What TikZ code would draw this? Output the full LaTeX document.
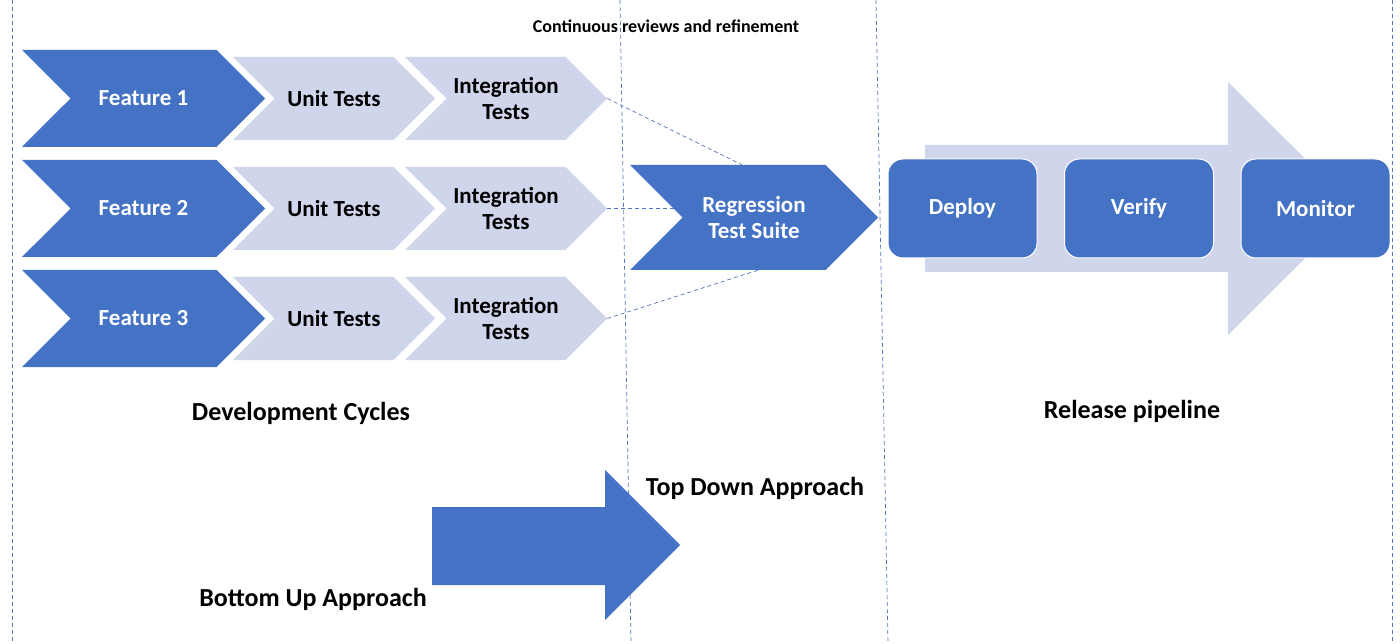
\documentclass[tikz,border=0pt]{standalone}
\usepackage{fontspec}
\setmainfont{Carlito}
\usepackage{tikz}
\usetikzlibrary{shapes.symbols,positioning,backgrounds}
\definecolor{darkblue}{RGB}{68,114,196}
\definecolor{paleblue}{RGB}{207,213,234}
\definecolor{guideblue}{RGB}{84,116,190}
\tikzset{
    chevron/.style={signal, signal from=west, signal to=east, inner sep=0,
        align=center, font=\fontsize{23}{26}\selectfont\bfseries},
    featurestep/.style={chevron, fill=darkblue, text=white, minimum width=243, minimum height=97},
    teststep/.style={chevron, fill=paleblue, text=black, minimum width=202, minimum height=83},
    releasebox/.style={rounded corners=15, fill=darkblue, draw=white, line width=1,
        text=white, minimum width=149, minimum height=99, font=\fontsize{23}{26}\selectfont\bfseries},
    heading/.style={font=\fontsize{26}{30}\selectfont\bfseries, text=black},
    guide/.style={guideblue, line width=0.7, dash pattern=on 4pt off 3pt},
}

\begin{document}
\begin{tikzpicture}[x=1pt,y=1pt,yscale=-1,xscale=1]
		\useasboundingbox (0,0) rectangle (1400,644);
		
		% Release arrow
		\fill [paleblue] (925,145) -- (1228,145) -- (1228,82) -- (1355,208.5) -- (1228,335) -- (1228,272) -- (925,272) -- cycle;
		% Bottom up arrow
		\fill [darkblue] (432,507) -- (605,507) -- (605,470) -- (680,545) -- (605,620) -- (605,585) -- (432,585) -- cycle;
		
		% Development rows
		\foreach \n/\y in {1/98.5, 2/208.5, 3/318.5}{
			\node [featurestep] (f\n) at (143.5,\y) {Feature \n};
			\node [teststep] (u\n) at (334,\y) {Unit Tests};
			\node [teststep] (i\n) at (506,\y) {Integration\\Tests};
		}
		
		% Regression
		\node [featurestep, minimum width=248, minimum height=105] (reg) at (754,217.5) {Regression\\Test Suite};
		
		% Release steps
		\node [releasebox] (deploy) at (962.5,208.5) {Deploy};
		\node [releasebox] (verify) at (1139,208.5) {Verify};
		\node [releasebox] (monitor) at (1315.5,208.5) {Monitor};
		
		\begin{pgfonlayer}{background}
			\fill [white] (0,0) rectangle (1400,644);
			\draw [guide] (i1.east) -- ([xshift=-12pt]reg.north);
			\draw [guide] (i2.east) -- (i2.east -| reg.center);
			\draw [guide] (i3.east) -- ([xshift=4pt]reg.south);
		\end{pgfonlayer}
		
		% Text Node
		\node [font=\fontsize{18}{22}\selectfont\bfseries] (reviews) at (666,26) {Continuous reviews and refinement};
		% Text Node
		\node [heading] (devcycles) at (301,413) {Development Cycles};
		\node [heading] (relpipe) at (1132,411) {Release pipeline};
		\node [heading] (topdown) at (755,488) {Top Down Approach};
		\node [heading] (bottomup) at (313,599) {Bottom Up Approach};
		
		% Guide lines
		\draw [guide] (12,0) -- (12,644);
		\draw [guide] (620,0) -- (631,644);
		\draw [guide] (876,0) -- (888,644);
		\draw [guide] (1392,0) -- (1392,644);
		
\end{tikzpicture}
\end{document}
